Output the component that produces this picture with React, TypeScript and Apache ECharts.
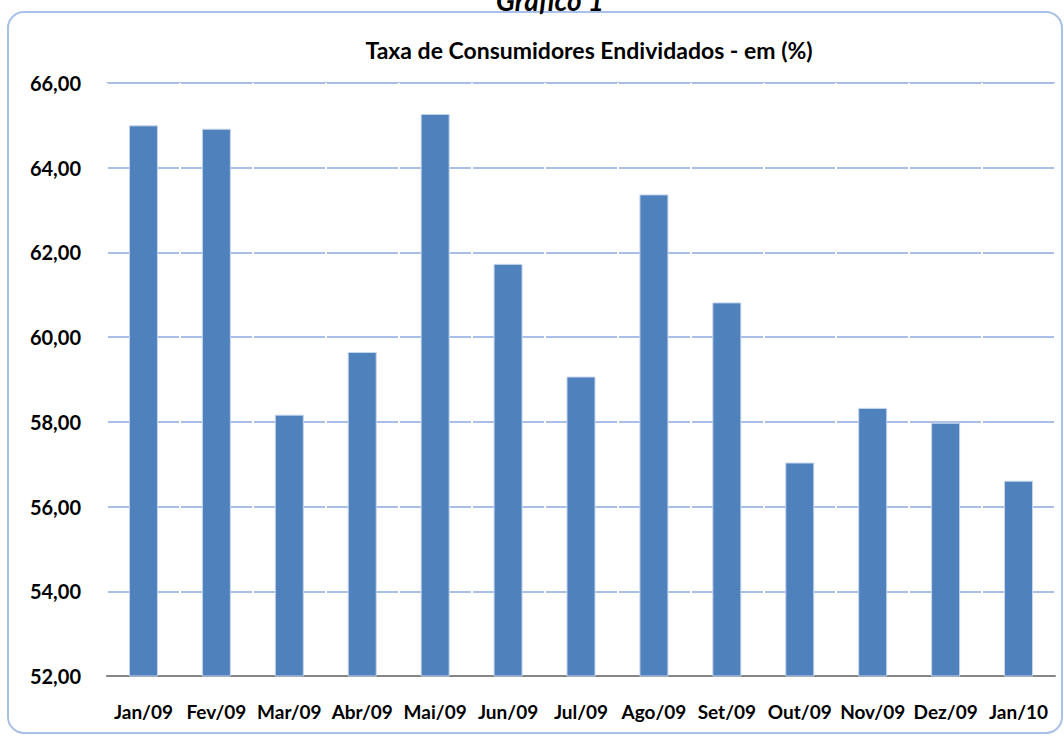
import React, { useEffect, useRef } from "react";
import * as echarts from "echarts";

const categories = ["Jan/09", "Fev/09", "Mar/09", "Abr/09", "Mai/09", "Jun/09", "Jul/09", "Ago/09", "Set/09", "Out/09", "Nov/09", "Dez/09", "Jan/10"];
const values = [65.0, 64.92, 58.17, 59.65, 65.27, 61.73, 59.07, 63.37, 60.82, 57.04, 58.33, 57.98, 56.61];
const chartTitle = "Taxa de Consumidores Endividados - em (%)";
const topCaption = "Gráfico 1";
const yMin = 52;
const yMax = 66;
const yStep = 2;

const FONT = "Lato, 'Open Sans', sans-serif";

export default function App() {
  const ref = useRef<HTMLDivElement>(null);
  useEffect(() => {
    if (!ref.current) return;
    const chart = echarts.init(ref.current, null, { renderer: "svg" });
    chart.setOption({
      animation: false,
      backgroundColor: "#ffffff",
      title: {
        text: chartTitle,
        left: 584,
        top: 33,
        textAlign: "center",
        textStyle: { fontFamily: FONT, fontSize: 23, fontWeight: "bold", color: "#000000" },
      },
      graphic: [
        {
          type: "rect",
          shape: { x: 8, y: 12, width: 1054, height: 721, r: 16 },
          style: { fill: "none", stroke: "#a9c0e8", lineWidth: 2 },
          silent: true,
        },
        {
          type: "text",
          x: 550,
          y: 14,
          style: {
            text: topCaption,
            fontFamily: FONT,
            fontSize: 28,
            fontStyle: "italic",
            fontWeight: "bold",
            fill: "#000000",
            textAlign: "center",
            textVerticalAlign: "bottom",
          },
        },
      ],
      grid: { left: 107, right: 9, top: 83, bottom: 62, containLabel: false },
      xAxis: {
        type: "category",
        data: categories,
        z: 3,
        axisLine: { show: true, lineStyle: { color: "#868686", width: 2 } },
        axisTick: { show: false },
        splitLine: { show: true, lineStyle: { color: "#ffffff", width: 2 } },
        axisLabel: {
          fontFamily: FONT,
          fontSize: 19,
          fontWeight: "bold",
          color: "#000000",
          margin: 26,
          interval: 0,
        },
      },
      yAxis: {
        type: "value",
        min: yMin,
        max: yMax,
        interval: yStep,
        z: 2,
        axisLine: { show: true, lineStyle: { color: "#bfbfbf", width: 2 } },
        axisTick: { show: false },
        splitLine: { show: true, lineStyle: { color: "#a9bfe8", width: 2 } },
        axisLabel: {
          fontFamily: FONT,
          fontSize: 20,
          fontWeight: "bold",
          color: "#000000",
          margin: 26,
          formatter: (v: number) => v.toFixed(2).replace(".", ","),
        },
      },
      series: [
        {
          type: "bar",
          data: values,
          barWidth: 29,
          z: 5,
          itemStyle: { color: "#4f81bd", borderColor: "#c6d5ec", borderWidth: 1 },
        },
      ],
    });
    return () => chart.dispose();
  }, []);
  return (
    <div
      ref={ref}
      style={{ position: "fixed", left: 0, top: 0, width: 1064, height: 738 }}
    />
  );
}
